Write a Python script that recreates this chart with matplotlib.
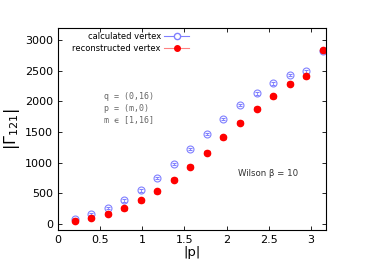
import numpy as np
import matplotlib
matplotlib.use("Agg")
import matplotlib.pyplot as plt
from matplotlib.lines import Line2D

# ── Data ─────────────────────────────────────────────────────────────────────
M = np.arange(1, 17)
P_ABS = 2 * np.pi * M / 32
CALC = [82, 164, 263, 383, 547, 750, 974, 1221, 1467, 1713, 1943, 2130, 2294, 2436, 2491, 2819]
RECO = [49, 99, 164, 257, 383, 536, 723, 936, 1166, 1418, 1653, 1878, 2086, 2288, 2414, 2836]
CALC_ERR = [20] * 16
RECO_ERR = [25] * 16

BLUE = "#8080ff"
RED = "#ff0000"

plt.rcParams["font.family"] = "DejaVu Sans"

fig = plt.figure(figsize=(3.69, 2.61), dpi=100)
ax = fig.add_axes([58 / 369, 31 / 261, 268 / 369, 202 / 261])

ax.errorbar(P_ABS, CALC, yerr=CALC_ERR, fmt="o", ms=5, mfc="none",
            mec=BLUE, ecolor=BLUE, mew=0.8, elinewidth=0.6, capsize=1.5)
ax.errorbar(P_ABS, RECO, yerr=RECO_ERR, fmt="o", ms=4.5, color=RED,
            ecolor=RED, elinewidth=1.0, capsize=2)

ax.set_xlim(0, 3.18)
ax.set_ylim(-100, 3200)
ax.set_xticks([0, 0.5, 1, 1.5, 2, 2.5, 3])
ax.set_xticklabels(["0", "0.5", "1", "1.5", "2", "2.5", "3"])
ax.set_yticks(range(0, 3001, 500))
ax.tick_params(direction="in", top=True, right=True, labelsize=8, length=3, width=0.6)
for s in ax.spines.values():
    s.set_linewidth(0.8)

ax.set_xlabel("|p|", fontsize=9.5, labelpad=1)
ax.set_ylabel(r"$|\Gamma_{121}|$", fontsize=11.5, labelpad=2)

handles = [
    Line2D([], [], color=BLUE, lw=0.8, marker="o", ms=4.5, mfc="white", mec=BLUE,
           label="calculated vertex"),
    Line2D([], [], color="#ff8080", lw=0.8, marker="o", ms=4, mfc=RED, mec=RED,
           label="reconstructed vertex"),
]
leg = ax.legend(handles=handles, loc="upper right", bbox_to_anchor=(0.505, 1.0),
                fontsize=6, frameon=False, markerfirst=False, handlelength=3.0,
                handletextpad=0.4, labelspacing=0.3, borderaxespad=0.2,
                borderpad=0.3)

for y, t in zip([2080, 1889, 1697], ["q = (0,16)", "p = (m,0)", "m \u220a [1,16]"]):
    ax.text(0.55, y, t, fontsize=6, family="DejaVu Sans Mono", color="#666666",
            va="center")
ax.text(2.13, 821, "Wilson \u03b2 = 10", fontsize=6.2, color="#333333", va="center")

fig.savefig("out.png", dpi=100, facecolor="white")
